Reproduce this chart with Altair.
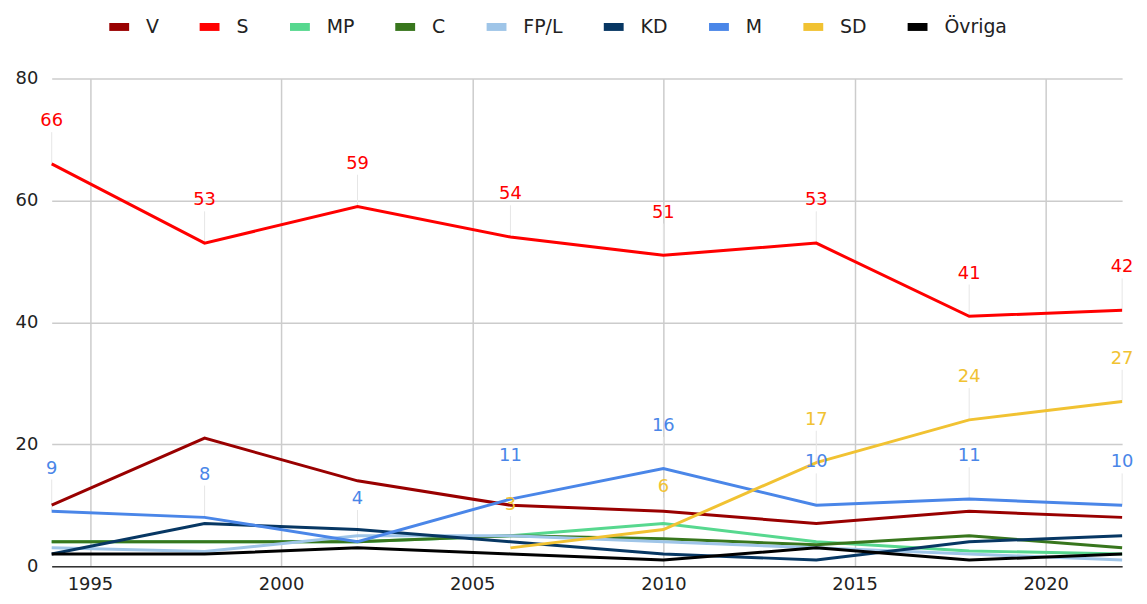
import altair as alt
import pandas as pd

years = [1994, 1998, 2002, 2006, 2010, 2014, 2018, 2022]
parties = ["V", "S", "MP", "C", "FP/L", "KD", "M", "SD", "Övriga"]
colors = ["#990000", "#ff0000", "#57d88f", "#38761d", "#9fc5e8", "#073763",
          "#4a86e8", "#f1c232", "#000000"]

V = [10, 21, 14, 10, 9, 7, 9, 8]
S = [66, 53, 59, 54, 51, 53, 41, 42]
MP = [4, 4, 4, 5, 7, 4, 2.5, 2]
C = [4, 4, 4, 5, 4.5, 3.5, 5, 3]
FPL = [3, 2.4, 5, 5, 4, 3, 2, 1]
KD = [2, 7, 6, 4, 2, 1, 4, 5]
M = [9, 8, 4, 11, 16, 10, 11, 10]
SD = [None, None, None, 3, 6, 17, 24, 27]
OVR = [2, 2, 3, 2, 1, 3, 1, 2]
labelled = ["S", "M", "SD"]

series = [V, S, MP, C, FPL, KD, M, SD, OVR]
rows = []
for p, vals in zip(parties, series):
    for y, v in zip(years, vals):
        if v is not None:
            rows.append({"year": y, "party": p, "value": v})
df = pd.DataFrame(rows)

font = "DejaVu Sans"
xenc = alt.X("year:Q", scale=alt.Scale(domain=[1994, 2022], nice=False, zero=False),
             axis=alt.Axis(values=[1995, 2000, 2005, 2010, 2015, 2020], format="d",
                           title=None, labelFontSize=18, labelColor="#222",
                           labelFont=font, labelPadding=10, ticks=False,
                           domain=True, domainColor="#333", domainWidth=1.5,
                           grid=True, gridColor="#cccccc", gridWidth=1.5))
yenc = alt.Y("value:Q", scale=alt.Scale(domain=[0, 80], nice=False),
             axis=alt.Axis(values=[0, 20, 40, 60, 80], title=None, labelFontSize=18,
                           labelColor="#222", labelFont=font, labelPadding=14,
                           ticks=False, domain=False, grid=True,
                           gridColor="#cccccc", gridWidth=1.5))

cscale = alt.Scale(domain=parties, range=colors)

lines = alt.Chart(df).mark_line(strokeWidth=3).encode(
    x=xenc, y=yenc,
    color=alt.Color("party:N", scale=cscale, sort=parties,
                    legend=alt.Legend(title=None, orient="none", direction="horizontal",
                                      legendX=54, legendY=-66,
                                      symbolType="stroke", symbolSize=400,
                                      symbolStrokeWidth=8, labelFontSize=19,
                                      labelFont=font, labelColor="#222",
                                      labelOffset=13, columnPadding=25)),
    order=alt.Order("year:Q"),
)

lab = alt.Chart(df).transform_filter(
    alt.FieldOneOfPredicate(field="party", oneOf=labelled))

leaders = lab.mark_rule(color="#e6e6e6", strokeWidth=1, y2Offset=-32).encode(
    x="year:Q", y="value:Q", y2="value:Q")

texts = lab.mark_text(dy=-43, fontSize=18, font=font, baseline="middle").encode(
    x="year:Q", y="value:Q", text=alt.Text("value:Q", format="d"),
    color=alt.Color("party:N", scale=cscale, legend=None),
)

chart = alt.layer(leaders, lines, texts).resolve_scale(color="independent").properties(
    width=1078, height=491,
    autosize=alt.AutoSizeParams(type="none"),
    padding={"left": 44, "top": 69, "right": 17, "bottom": 30},
).configure_view(stroke=None)

chart.save("out.html", embed_options={"renderer": "svg", "actions": False})
